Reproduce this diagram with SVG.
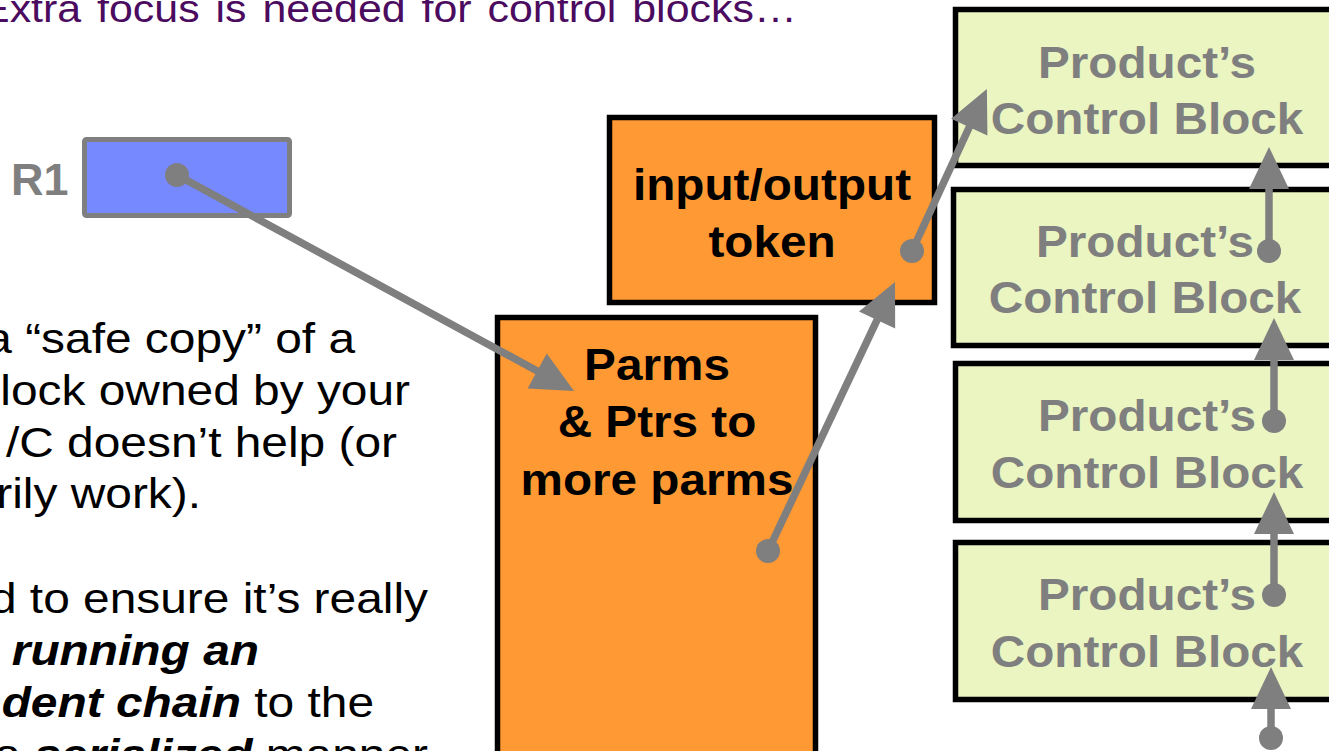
<svg xmlns="http://www.w3.org/2000/svg" width="1329" height="751" viewBox="0 0 1329 751">
  <style>
    .title { font-family: "Liberation Sans", Arial, sans-serif; font-size: 38px; fill: #4B0B5F; word-spacing: 3.5px; }
    .body { font-family: "Liberation Sans", Arial, sans-serif; font-size: 42px; fill: #000000; text-anchor: end; }
    .em { font-weight: bold; font-style: italic; }
    .lbl { font-family: "Liberation Sans", Arial, sans-serif; font-size: 45px; font-weight: bold; text-anchor: middle; }
    .dark { fill: #000000; }
    .grey { fill: #7F7F7F; }
    .cb { fill: #EAF5C1; stroke: #000000; stroke-width: 5.5; }
    .orange { fill: #FF9933; stroke: #000000; stroke-width: 5.5; }
    .reg { fill: #7789FF; stroke: #7F7F7F; stroke-width: 5; }
    .link { stroke: #7F7F7F; stroke-width: 7.5; fill: none; marker-start: url(#dot); marker-end: url(#head); }
  </style>
  <defs>
    <marker id="head" markerUnits="userSpaceOnUse" markerWidth="42" markerHeight="40" refX="12" refY="20" orient="auto" overflow="visible">
      <path d="M0,0 L42,20 L0,40 Z" fill="#7F7F7F"/>
    </marker>
    <marker id="dot" markerUnits="userSpaceOnUse" markerWidth="24" markerHeight="24" refX="12" refY="12" overflow="visible">
      <circle cx="12" cy="12" r="12" fill="#7F7F7F"/>
    </marker>
  </defs>

  <rect x="0" y="0" width="1329" height="751" fill="#FFFFFF"/>

  <!-- heading -->
  <text class="title" transform="translate(-19,22) scale(1.13,1)">Extra focus is needed for control blocks…</text>

  <!-- explanatory text -->
  <g id="notes">
    <text class="body" transform="translate(355,353) scale(1.14,1)">a “safe copy” of a</text>
    <text class="body" transform="translate(410,405) scale(1.14,1)">lock owned by your</text>
    <text class="body" transform="translate(397,457) scale(1.14,1)">/C doesn’t help (or</text>
    <text class="body" transform="translate(201,508) scale(1.14,1)">rily work).</text>
    <text class="body" transform="translate(428,613) scale(1.14,1)">d to ensure it’s really</text>
    <text class="body" transform="translate(259,665) scale(1.14,1)"><tspan class="em">running an</tspan></text>
    <text class="body" transform="translate(374,717) scale(1.14,1)"><tspan class="em">ndent chain</tspan> to the</text>
    <text class="body" transform="translate(428,769) scale(1.14,1)">a <tspan class="em">serialized</tspan> manner</text>
  </g>

  <!-- register R1 -->
  <g id="r1">
    <text class="lbl grey" x="11" y="195" style="text-anchor:start">R1</text>
    <rect class="reg" x="84.5" y="139.5" width="205" height="76" rx="2"/>
  </g>

  <!-- parameter list -->
  <g id="parms">
    <rect class="orange" x="497.5" y="317.5" width="318" height="460"/>
    <text class="lbl dark" transform="translate(657,380) scale(1.06,1)">Parms</text>
    <text class="lbl dark" transform="translate(657,437) scale(1.06,1)">&amp; Ptrs to</text>
    <text class="lbl dark" transform="translate(657,495) scale(1.06,1)">more parms</text>
  </g>

  <!-- token -->
  <g id="token">
    <rect class="orange" x="609.5" y="117.5" width="325" height="185"/>
    <text class="lbl dark" transform="translate(772,200) scale(1.06,1)">input/output</text>
    <text class="lbl dark" transform="translate(772,257) scale(1.06,1)">token</text>
  </g>

  <!-- chain of product control blocks -->
  <g id="cb1">
    <rect class="cb" x="955.5" y="9.5" width="400" height="156"/>
    <text class="lbl grey" transform="translate(1147,78) scale(1.06,1)">Product’s</text>
    <text class="lbl grey" transform="translate(1147,134) scale(1.06,1)">Control Block</text>
  </g>
  <g id="cb2">
    <rect class="cb" x="953.5" y="189.5" width="400" height="156"/>
    <text class="lbl grey" transform="translate(1145,257) scale(1.06,1)">Product’s</text>
    <text class="lbl grey" transform="translate(1145,313) scale(1.06,1)">Control Block</text>
  </g>
  <g id="cb3">
    <rect class="cb" x="955.5" y="363.5" width="400" height="157"/>
    <text class="lbl grey" transform="translate(1147,431) scale(1.06,1)">Product’s</text>
    <text class="lbl grey" transform="translate(1147,488) scale(1.06,1)">Control Block</text>
  </g>
  <g id="cb4">
    <rect class="cb" x="955.5" y="542.5" width="400" height="157"/>
    <text class="lbl grey" transform="translate(1147,610) scale(1.06,1)">Product’s</text>
    <text class="lbl grey" transform="translate(1147,667) scale(1.06,1)">Control Block</text>
  </g>

  <!-- pointers -->
  <g id="connectors">
    <line class="link" x1="177" y1="175" x2="547.7" y2="376.7"/>
    <line class="link" x1="768" y1="551" x2="882.2" y2="309.1"/>
    <line class="link" x1="912" y1="251" x2="974.3" y2="116.2"/>
    <line class="link" x1="1269" y1="251" x2="1269" y2="177"/>
    <line class="link" x1="1274" y1="421" x2="1274" y2="348"/>
    <line class="link" x1="1274" y1="595" x2="1274" y2="522"/>
    <line class="link" x1="1271" y1="738" x2="1271" y2="697"/>
  </g>
</svg>
